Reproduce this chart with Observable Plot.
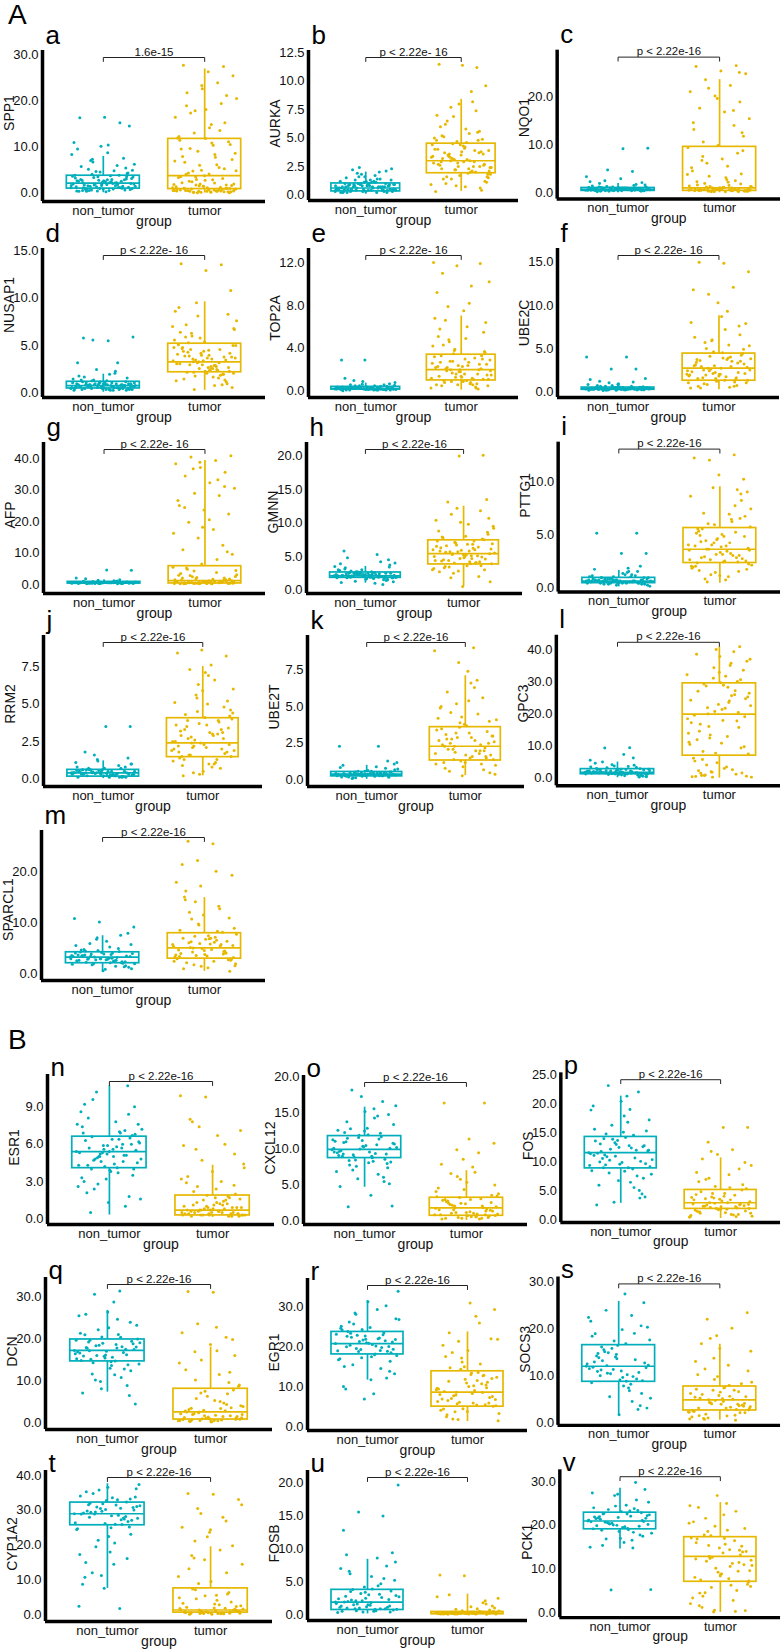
<!DOCTYPE html>
<html><head><meta charset="utf-8">
<script src="https://cdn.jsdelivr.net/npm/d3@7"></script>
<script src="https://cdn.jsdelivr.net/npm/@observablehq/plot@0.6"></script>
<style>
body{margin:0;background:#fff;font-family:"Liberation Sans",Arial,Helvetica,sans-serif}
#root{position:relative;width:784px;height:1649px;overflow:hidden;background:#fff}
.sec{position:absolute;font-size:28px;line-height:1;color:#000}
.pan{position:absolute}
</style></head>
<body><div id="root"></div>
<script>
// ---------------- data ----------------
const groups = ["non_tumor", "tumor"];
const sections = ["A", "B"];
const letters = ["a","b","c","d","e","f","g","h","i","j","k","l","m","n","o","p","q","r","s","t","u","v"];
const genes = ["SPP1","AURKA","NQO1","NUSAP1","TOP2A","UBE2C","AFP","GMNN","PTTG1","RRM2","UBE2T","GPC3","SPARCL1",
               "ESR1","CXCL12","FOS","DCN","EGR1","SOCS3","CYP1A2","FOSB","PCK1"];
const pLabels = ["1.6e-15","p < 2.22e- 16","p < 2.22e-16","p < 2.22e- 16","p < 2.22e- 16","p < 2.22e- 16",
                 "p < 2.22e- 16","p < 2.22e-16","p < 2.22e-16","p < 2.22e-16","p < 2.22e-16","p < 2.22e-16","p < 2.22e-16",
                 "p < 2.22e-16","p < 2.22e-16","p < 2.22e-16","p < 2.22e-16","p < 2.22e-16","p < 2.22e-16",
                 "p < 2.22e-16","p < 2.22e-16","p < 2.22e-16"];
const yTicks = [[0,10,20,30],[0,2.5,5,7.5,10,12.5],[0,10,20],[0,5,10,15],[0,4,8,12],[0,5,10,15],[0,10,20,30,40],
                [0,5,10,15,20],[0,5,10],[0,2.5,5,7.5],[0,2.5,5,7.5],[0,10,20,30,40],[0,10,20],
                [0,3,6,9],[0,5,10,15,20],[0,5,10,15,20,25],[0,10,20,30],[0,10,20,30],[0,10,20,30],
                [0,10,20,30,40],[0,5,10,15,20],[0,10,20,30]];
const yDomains = [[-1.8,31],[-0.5,12.7],[-1.2,29.6],[-0.45,15.2],[-0.59,13.3],[-0.7,16.6],[-2.9,45.2],
                  [-0.54,22],[-0.44,13.7],[-0.51,9.57],[-0.44,9.84],[-2.4,44.6],[-1.3,28.2],
                  [-0.46,11.6],[-0.46,20.2],[-0.4,25.3],[-1.56,34.5],[-0.84,37],[-0.57,31],
                  [-1.9,41.4],[-0.9,21.9],[-1.1,32.7]];
// box statistics: [lower whisker, Q1, median, Q3, upper whisker]
const boxNonTumor = [[0.1,1.0,2.2,3.8,8.0],[0.05,0.3,0.6,1.0,2.0],[0.1,0.5,0.8,1.1,2.0],[0.1,0.5,0.8,1.2,2.0],
  [0.02,0.15,0.25,0.4,0.75],[0.05,0.2,0.3,0.45,0.8],[0.1,0.3,0.5,0.8,1.5],[1.0,1.8,2.1,2.6,3.5],[0.05,0.4,0.6,0.9,1.6],
  [0.02,0.15,0.4,0.6,1.2],[0.05,0.25,0.4,0.55,1.0],[0.1,1.2,1.8,2.8,5.0],[0.5,2.1,3.3,4.25,7.5],
  [0.3,4.07,5.4,6.6,10.7],[4.7,8.75,9.95,11.8,15.8],[2.9,8.9,11.6,14.3,21.3],[7.3,14.6,17.2,19.8,26.7],
  [11.7,18.1,20.8,23.7,31.5],[1.5,8.7,12.0,16.5,25.8],[7.6,25.7,29.0,32.2,37.6],[0.1,0.7,1.9,3.76,8.4],[14.6,19.1,21.0,22.9,28.5]];
const boxTumor = [[0.05,0.9,3.8,11.8,27.0],[0.3,1.9,3.0,4.5,8.4],[0.1,0.5,1.1,9.6,23.5],[0.3,2.2,3.3,5.2,9.6],
  [0.1,1.0,2.0,3.4,7.0],[0.2,1.25,2.7,4.4,8.8],[0.05,0.3,1.2,5.8,39.5],[0.5,3.8,5.4,7.4,12.5],[0.4,2.3,3.6,5.6,9.5],
  [0.2,1.45,2.4,4.05,7.5],[0.3,1.33,2.3,3.6,7.1],[0.0,7.0,20.0,29.6,41.0],[0.5,3.0,5.1,8.0,15.0],
  [0.1,0.27,0.7,1.87,4.3],[0.1,0.75,1.85,3.25,7.0],[0.3,1.95,3.0,5.2,10.7],[0.1,0.8,2.6,8.1,18.0],
  [1.4,5.1,8.7,13.9,23.7],[0.5,2.6,4.85,7.7,16.7],[0.1,0.66,1.4,7.6,19.5],[0.0,0.05,0.2,0.4,3.1],[0.1,7.1,12.9,17.3,25.2]];
// jittered sample points
const ptsNonTumor = [
 [1.2,2.5,0.8,3.1,1.7,0.5,2.2,4.1,1.0,2.9,0.6,1.5,3.6,2.0,0.9,5.2,1.3,2.7,0.4,3.9,1.8,6.3,2.3,1.1,0.7,4.6,3.3,1.6,7.1,2.1,0.3,5.8,2.6,1.4,8.4,3.0,0.9,4.3,2.4,9.6,1.9,6.8,3.5,10.5,1.2,7.6,2.8,11.0,4.9,0.6,14.6,16.5,16.4,15.3,2.0,1.5,3.8,0.8,5.5,10.2,
  1.4,2.3,0.7,3.2,1.9,2.8,1.1,0.5,3.7,2.1,1.6,4.4,0.9,2.6,1.3,3.4,2.0,0.6,1.8,2.9,1.0,3.9,2.2,1.5,0.8,2.5,3.0,1.2,4.7,1.7,2.4,0.4,3.6,1.9,2.7,6.0,7.4,5.0,8.8,2.3],
 [0.3,0.6,0.9,0.4,1.1,0.2,0.7,1.3,0.5,0.8,1.5,0.3,1.0,0.6,1.7,0.4,0.9,1.2,0.2,0.7,1.9,0.5,1.1,0.8,2.1,0.3,0.6,1.4,0.9,2.3,0.4,1.0,0.7,2.4,0.5,1.2,0.3,0.8,1.6,0.6,2.0,0.4,0.9,1.3,0.2,0.7,1.8,0.5,1.1,2.2,
  0.5,0.8,0.3,0.6,1.0,0.4,0.7,0.9,0.2,0.5,1.2,0.6,0.8,0.3,1.0,0.7,0.4,0.9,0.6,1.1,0.5,0.8,0.3,0.7,1.4,0.6,0.9,0.4,0.5,1.0,0.8,0.6,0.2,0.7,1.3,0.9,0.5,0.4,1.6,0.8],
 [0.6,0.9,1.2,0.4,0.8,1.0,0.5,1.4,0.7,1.1,0.3,0.9,1.3,0.6,0.8,1.0,0.5,1.2,0.7,1.6,0.4,0.9,1.1,2.0,0.6,0.8,2.4,1.0,0.5,1.3,3.0,0.7,1.8,0.9,3.4,1.1,0.6,2.2,0.8,1.5,4.5,4.8,9.3,9.2,0.7,1.0,0.5,1.2,
  0.7,0.9,0.5,1.0,0.8,0.6,1.1,0.7,0.9,0.4,0.8,1.0,0.6,0.9,0.7,1.2,0.5,0.8,1.0,0.6,0.7,0.9,1.1,0.8,0.5,0.7,1.0,0.6,0.9,0.8,1.3,0.7,0.6,1.0,0.8,2.6,1.7,0.9,0.5,1.1],
 [0.5,0.8,1.1,0.3,0.7,1.0,0.6,1.3,0.4,0.9,1.2,0.5,0.8,1.5,0.3,0.7,1.0,0.6,1.8,0.4,0.9,1.1,2.0,0.5,0.8,1.2,0.6,2.3,0.7,1.0,0.4,1.4,0.9,2.5,0.6,1.1,0.8,1.6,0.5,3.2,3.2,5.6,5.9,5.5,5.8,0.7,1.0,0.3,
  0.6,0.9,0.4,1.1,0.7,0.5,1.0,0.8,0.3,0.9,1.2,0.6,0.7,1.0,0.5,0.8,1.3,0.4,0.9,0.6,1.1,0.7,0.8,0.5,1.0,0.9,0.6,1.4,0.7,0.4,1.7,0.8,1.1,0.5,2.1,0.9,0.6,1.0,0.7,0.8],
 [0.2,0.3,0.1,0.4,0.25,0.15,0.35,0.5,0.2,0.3,0.1,0.6,0.25,0.4,0.15,0.3,0.7,0.2,0.05,0.45,0.3,0.8,0.2,0.35,0.1,0.9,0.25,0.4,1.0,0.3,0.15,1.2,0.2,0.5,0.35,0.1,0.6,0.3,2.9,2.9,0.25,0.4,0.2,
  0.2,0.3,0.15,0.25,0.35,0.2,0.3,0.1,0.4,0.25,0.2,0.3,0.15,0.35,0.25,0.45,0.2,0.3,0.1,0.25,0.4,0.2,0.3,0.15,0.35,0.2,0.5,0.3,0.25,0.15,0.4,0.2,0.3,0.55,0.25,0.35,0.2,0.65,0.3,0.1],
 [0.3,0.2,0.4,0.5,0.15,0.35,0.6,0.25,0.45,0.3,0.7,0.2,0.4,0.8,0.3,0.1,0.55,0.9,0.25,0.4,1.0,0.3,0.2,1.2,0.5,0.35,1.4,0.3,0.6,1.5,0.25,0.45,2.6,2.6,4.0,4.0,0.3,0.2,0.4,
  0.3,0.4,0.2,0.35,0.5,0.25,0.3,0.45,0.15,0.4,0.3,0.2,0.55,0.35,0.25,0.3,0.4,0.2,0.6,0.3,0.45,0.25,0.35,0.15,0.4,0.3,0.5,0.2,0.7,0.35,0.25,0.3,0.45,0.85,0.3,1.1,0.2,0.4,0.3,0.25],
 [0.4,0.6,0.3,0.8,0.5,0.7,0.2,0.9,0.4,0.6,1.0,0.5,0.3,0.7,1.2,0.5,0.4,0.8,0.6,1.5,0.3,0.7,0.5,1.8,0.6,0.4,2.0,0.8,0.5,4.5,4.6,0.6,0.3,0.7,
  0.5,0.6,0.4,0.7,0.5,0.3,0.8,0.6,0.4,0.5,0.7,0.6,0.3,0.5,0.9,0.4,0.6,0.7,0.5,0.4,0.6,0.8,0.5,0.3,0.7,0.6,0.5,1.1,0.4,0.6,0.5,0.7,0.4,1.3,0.6,0.5],
 [2.1,1.8,2.5,1.5,2.2,2.9,1.9,2.4,1.2,2.0,3.3,1.7,2.6,2.3,1.0,2.8,3.7,1.6,2.1,4.2,2.4,1.9,2.7,4.8,1.4,2.2,3.0,5.3,2.0,1.8,2.5,5.8,0.8,2.3,3.5,1.7,2.6,4.5,2.1,3.9,2.4,1.3,
  2.2,1.9,2.4,2.0,2.6,1.8,2.3,2.1,2.5,1.7,2.2,2.0,2.7,1.9,2.4,2.1,1.6,2.3,2.8,2.0,2.5,1.8,2.2,3.1,1.5,2.4,2.1,2.6,1.9,3.4,2.3,1.1,2.0,2.7,4.0,2.2,1.8,2.5,3.0,2.1],
 [0.6,0.4,0.9,0.3,0.7,1.1,0.5,0.8,0.2,1.3,0.6,0.4,1.0,0.7,1.5,0.3,0.9,0.5,1.7,0.6,0.8,0.1,1.2,0.4,2.0,0.7,0.5,1.0,0.6,3.2,3.2,5.1,5.1,0.8,0.4,1.4,
  0.5,0.7,0.4,0.8,0.6,0.3,0.9,0.5,0.7,0.4,0.6,1.0,0.5,0.8,0.3,0.6,0.7,1.1,0.4,0.6,0.5,0.9,0.7,0.2,0.6,1.2,0.5,0.8,0.4,0.6,1.5,0.7,0.5,1.8,0.6,0.4],
 [0.4,0.2,0.6,0.1,0.5,0.8,0.3,0.4,1.0,0.2,0.6,0.1,1.2,0.4,0.3,0.7,1.4,0.2,0.5,0.9,1.6,0.3,0.1,1.8,0.5,0.4,1.1,0.2,0.6,3.5,3.5,0.3,0.7,0.4,
  0.3,0.5,0.2,0.4,0.6,0.1,0.35,0.45,0.25,0.5,0.3,0.15,0.55,0.4,0.2,0.6,0.3,0.7,0.45,0.1,0.35,0.5,0.25,0.4,0.8,0.3,0.55,0.2,0.45,1.0,0.35,0.6,0.15,1.3,0.4,0.25],
 [0.4,0.3,0.5,0.2,0.6,0.35,0.45,0.15,0.7,0.4,0.25,0.8,0.5,0.3,0.9,0.1,0.55,0.4,1.0,0.3,0.6,1.2,0.45,0.2,1.3,0.35,2.3,2.3,0.5,0.4,
  0.4,0.3,0.5,0.35,0.45,0.25,0.4,0.55,0.3,0.2,0.5,0.4,0.35,0.6,0.3,0.45,0.25,0.4,0.5,0.15,0.35,0.65,0.45,0.3,0.4,0.75,0.5,0.35,0.2,0.4,0.85,0.3,0.55,1.1,0.45,0.35],
 [1.8,1.2,2.6,0.8,2.0,3.5,1.5,2.3,0.4,1.0,3.0,1.7,4.2,2.1,1.3,5.0,0.6,2.5,1.9,6.3,1.1,2.8,7.4,1.6,0.3,3.8,2.2,9.5,9.4,1.4,2.0,4.6,
  1.6,2.2,1.3,2.7,1.9,1.0,2.4,1.5,2.0,3.2,1.2,1.8,2.6,0.9,1.4,2.1,3.6,1.7,2.5,1.1,2.0,4.0,1.5,2.3,0.7,1.8,2.9,1.3,5.6,2.2,1.6,0.5,2.8,1.9,3.3,1.4],
 [3.3,2.2,4.5,1.6,3.0,5.6,2.7,3.9,1.0,6.4,3.5,2.4,7.1,1.9,4.1,2.9,8.0,0.6,3.7,5.0,2.0,9.2,3.1,4.8,1.4,10.2,10.9,2.6,6.0,3.4,0.9,4.3,7.6,2.8,
  3.0,3.8,2.3,3.5,4.2,2.6,3.2,1.8,4.0,2.9,3.6,2.1,4.6,3.4,2.5,3.1,1.3,3.9,2.7,4.4,3.3,2.0,5.3,3.7,2.4,3.0,4.1,1.5,3.5,5.8,2.8,4.7,2.2,6.8,3.6,3.1],
 [5.4,4.1,6.6,3.5,5.9,7.4,4.6,2.8,6.2,5.0,8.1,1.8,5.6,4.3,7.0,2.4,6.8,3.9,9.2,1.0,5.2,4.8,7.8,0.5,6.0,3.2,8.6,5.7,10.2,4.5,6.4,2.1,10.7,5.3,7.6,3.7,9.6,4.0,1.3,6.9,5.1,
  5.0,6.1,4.4,5.7,6.5,4.2,5.3,6.9,4.8,5.5,3.8,6.3,5.1,4.6,7.2,5.8,4.0,6.7,5.2,3.3,6.0,4.9,7.6,5.6,4.3,8.4,5.9,2.6,6.4,4.7,9.0,5.4,3.0,7.1,5.0,1.6],
 [9.9,8.8,11.5,7.4,10.4,12.6,6.5,9.2,13.4,8.1,10.9,5.5,11.9,9.6,14.3,7.8,10.1,15.2,4.8,12.2,8.5,16.0,3.6,11.0,9.3,17.3,6.9,10.6,18.2,2.1,12.9,9.0,16.6,5.9,11.3,8.3,2.0,14.8,
  10.3,9.1,11.4,8.9,10.7,9.6,12.3,8.6,10.0,11.1,9.4,12.8,8.2,10.5,9.8,11.7,7.6,10.2,9.0,13.8,8.0,11.2,9.5,14.6,7.1,10.8,12.0,9.3,6.1,11.6,10.1,15.6,8.4,5.2,12.5,9.7],
 [11.6,9.0,14.0,7.2,12.5,15.6,5.6,10.3,17.2,8.4,13.1,3.8,11.0,18.9,6.5,14.8,9.7,20.4,2.6,12.0,16.3,7.9,21.3,10.6,4.5,13.7,19.6,8.8,23.1,11.9,15.1,6.0,22.0,3.1,9.4,12.8,
  11.2,12.8,9.6,13.6,10.7,12.2,9.2,14.2,11.8,10.1,13.0,8.5,12.4,10.9,15.3,9.9,11.5,7.6,13.9,10.4,16.8,9.0,12.6,6.8,11.1,14.6,8.1,12.0,17.9,10.0,5.1,13.3,11.4,19.0,9.5,4.0],
 [17.2,14.7,19.6,12.4,16.1,21.3,10.8,18.3,23.2,13.6,17.9,8.9,20.4,15.2,24.6,11.6,18.8,26.3,7.1,16.7,22.1,14.0,28.7,19.2,6.5,15.8,25.4,31.3,30.5,4.5,13.0,20.9,17.5,9.8,
  16.4,18.6,15.1,19.4,17.0,14.8,18.1,16.0,19.9,15.6,17.7,13.8,18.9,16.9,21.0,14.3,17.4,22.6,15.9,12.8,18.4,19.0,11.4,17.1,23.9,15.4,16.6,20.3,10.2,18.0,14.5,25.8,16.2,8.1,19.6,17.8],
 [20.8,18.2,23.4,16.4,21.9,25.1,14.6,19.6,27.0,17.5,22.6,12.2,24.3,19.0,29.3,15.5,21.2,31.2,10.1,23.0,18.8,33.8,8.3,26.2,20.1,7.0,17.0,22.2,28.4,13.3,24.8,9.5,
  21.5,19.3,23.1,20.2,22.4,18.5,21.0,24.2,19.8,22.9,17.8,20.6,23.8,18.9,21.7,16.8,22.0,25.7,19.4,20.9,15.1,23.5,21.3,26.8,18.0,20.4,13.9,22.7,24.6,19.1,28.1,21.8,11.8,20.0,30.2,17.3],
 [12.0,8.8,16.1,6.2,13.6,18.4,4.5,10.5,20.3,9.6,14.7,2.8,11.3,22.4,7.4,15.5,25.5,1.7,12.9,19.0,5.5,17.6,27.4,10.0,3.6,14.0,21.6,8.2,23.9,11.7,
  11.0,14.2,9.3,15.8,12.5,10.2,13.2,8.9,16.4,11.8,9.8,14.9,12.2,7.8,13.8,10.7,17.4,11.5,6.8,15.1,12.7,9.1,18.9,13.4,10.4,5.2,16.8,11.2,20.6,14.5,8.5,22.8,12.1,3.1,19.8,10.9],
 [29.0,26.0,32.0,23.1,30.2,34.1,27.3,19.5,31.1,28.4,35.3,16.2,29.7,24.5,33.0,12.1,30.8,36.6,8.8,27.8,21.4,37.4,14.5,31.6,25.2,7.6,2.5,1.8,28.9,33.8,18.0,10.8,
  28.2,30.5,26.4,31.5,29.4,27.1,32.8,28.9,25.9,30.9,27.7,33.6,29.8,26.8,31.9,24.7,28.6,34.8,30.1,22.5,29.2,27.5,35.8,31.3,20.6,28.0,33.2,26.2,17.3,30.6,29.5,36.2,25.0,15.0,32.4,11.3],
 [1.9,0.8,3.5,0.4,2.5,1.3,4.7,0.6,2.9,5.8,1.0,7.4,2.1,0.3,8.6,3.8,9.4,1.5,12.8,15.0,15.6,19.7,0.5,6.6,2.3,4.2,1.1,3.1,0.9,5.2,
  1.4,2.8,0.9,3.2,1.7,0.6,2.2,3.6,1.2,0.5,2.6,1.6,0.8,3.9,2.0,1.1,0.4,2.4,4.4,1.5,0.7,3.0,1.9,5.5,1.0,2.7,0.6,6.2,1.3,3.4,7.0,0.9,2.1,8.0,1.8,9.1],
 [21.0,19.3,22.6,17.5,21.8,24.0,18.4,20.4,25.3,16.1,22.0,19.8,26.8,15.0,23.3,20.7,28.2,17.0,21.5,29.8,5.2,5.3,24.6,18.9,22.9,20.0,27.4,16.6,
  20.6,22.2,19.5,21.7,23.4,20.1,21.2,19.0,22.7,20.9,18.6,21.9,23.8,20.3,22.4,19.7,21.4,17.8,24.4,20.8,22.1,16.9,21.6,23.1,19.9,25.8,20.5,18.2,22.6,15.4,21.1,27.1,19.2,14.8,23.6,20.2]
];
const ptsTumor = [
 [0.2,0.5,0.8,1.1,0.3,1.6,0.6,2.2,0.4,1.0,2.8,0.7,1.3,3.5,0.9,0.2,4.1,1.8,5.0,0.5,6.2,2.5,7.3,1.2,8.0,3.2,9.1,0.6,10.4,4.4,11.2,1.5,12.3,5.6,13.1,0.8,14.2,6.7,15.3,2.0,16.5,7.8,17.4,0.3,18.2,9.6,19.5,3.0,20.6,10.9,21.8,1.1,22.7,12.0,24.0,4.8,25.5,26.4,27.8,27.5,0.4,1.9,0.7,2.6,0.1,3.8,11.5,13.6,17.9,8.7,
  0.3,0.6,1.0,0.2,1.4,0.5,0.9,1.7,0.4,2.3,0.8,0.1,1.2,2.9,0.6,0.3,1.5,3.4,0.7,0.2,2.0,4.2,1.1,5.3,6.1,7.0,8.4,9.7,10.6,11.9,3.6,0.5,1.8,4.9,14.9,19.0,21.2,23.4,0.9,0.4],
 [3.0,1.5,4.2,2.3,5.6,0.8,3.4,2.0,6.5,1.2,3.8,2.7,7.4,4.5,1.8,3.1,5.1,0.4,2.5,4.0,8.2,3.6,1.6,2.9,6.0,4.8,2.2,3.3,5.4,1.0,2.6,4.4,7.0,3.9,1.4,2.1,5.8,3.2,0.6,4.7,2.8,9.1,3.5,9.6,11.4,11.5,11.2,6.9,2.4,1.9,3.7,4.9,8.0,0.3,
  2.5,3.3,1.8,4.1,2.9,3.7,2.2,4.4,3.0,1.6,2.7,3.5,4.0,2.0,3.2,2.4,4.6,1.4,3.8,2.8,5.0,2.1,3.4,1.1,4.3,2.6,5.5,3.1,0.9,2.3,6.2,3.6,1.7,4.8,2.9,7.7,3.9,0.7,5.2,2.5],
 [0.4,0.8,1.2,0.6,1.0,0.3,1.5,0.7,2.0,0.5,1.1,0.9,2.6,0.4,1.4,3.2,0.6,4.0,0.8,5.3,1.1,6.2,0.5,7.1,1.7,8.3,0.9,9.4,2.3,10.6,11.8,0.7,13.2,14.0,3.5,15.4,16.8,17.6,18.9,20.1,21.0,22.3,23.5,24.7,25.3,26.2,26.4,0.3,1.3,2.8,6.8,12.5,19.6,4.6,
  0.5,0.9,0.4,1.2,0.7,0.3,1.0,0.6,1.6,0.8,0.4,1.1,0.5,0.9,1.4,0.6,0.3,0.8,1.9,0.7,1.0,0.5,1.3,0.4,0.8,2.4,0.6,1.1,3.9,5.6,7.6,8.8,9.9,14.6,17.1,21.7,0.7,1.2,0.5,25.0],
 [3.3,2.1,4.5,1.5,3.8,2.6,5.6,0.8,3.0,4.2,2.3,6.4,1.9,3.5,5.0,2.8,7.2,1.2,4.0,3.1,2.5,6.0,0.6,3.7,4.8,2.0,8.1,3.4,1.7,5.3,2.7,4.4,9.0,3.2,0.4,6.7,2.4,3.9,1.4,5.8,8.6,2.9,4.6,10.8,12.9,13.6,13.5,9.5,7.6,3.6,2.2,1.0,
  3.0,4.1,2.4,3.6,5.0,2.7,4.4,2.0,3.3,4.8,2.9,3.9,2.3,5.4,3.1,4.6,1.8,3.7,2.5,5.9,3.5,4.2,1.3,2.8,6.3,3.8,2.1,4.7,0.9,3.2,7.0,2.6,4.3,8.3,3.4,5.1,1.6,2.2,6.8,4.0],
 [2.0,1.1,3.0,0.5,2.5,1.6,4.2,0.8,2.2,3.6,1.3,5.1,0.3,2.8,1.9,6.0,1.0,3.3,2.4,6.8,0.6,4.6,1.5,7.5,2.7,0.2,3.9,1.2,8.2,2.1,5.5,1.8,9.2,3.1,0.9,10.2,4.9,11.0,11.9,11.7,12.0,9.8,7.9,6.4,2.3,1.4,0.7,3.5,
  1.5,2.4,0.8,3.0,1.8,2.2,1.1,2.8,0.5,1.6,3.3,2.0,1.3,2.6,0.7,1.9,3.7,1.4,2.3,0.4,1.7,2.9,1.0,4.3,2.1,0.6,3.2,1.2,4.8,2.5,0.9,5.8,1.6,3.8,0.3,2.7,6.6,1.1,2.0,0.6],
 [2.7,1.3,3.9,0.6,2.2,4.6,1.8,5.4,0.9,3.2,2.0,6.3,1.1,4.1,2.5,7.2,0.4,3.5,1.5,8.0,2.9,5.0,1.0,8.7,3.7,0.7,6.0,2.4,9.3,1.6,4.4,10.3,11.8,12.1,11.3,13.9,14.9,15.0,7.6,3.0,1.9,0.5,5.7,2.1,
  2.0,3.1,1.4,2.6,3.8,1.7,2.9,4.2,1.2,2.3,3.5,0.8,2.8,4.5,1.5,3.3,2.1,1.0,3.9,2.5,4.9,1.8,3.0,0.6,2.4,5.3,1.3,3.6,6.6,2.2,0.4,4.0,1.9,7.9,2.7,3.4,1.6,5.9,2.0,3.7],
 [0.3,0.8,1.2,0.5,2.0,0.2,1.5,0.7,2.8,0.4,1.0,3.5,0.6,1.8,4.4,0.3,5.2,1.1,6.5,0.9,7.9,2.4,9.6,0.5,11.0,12.5,14.8,16.3,17.5,19.8,22.4,23.7,25.1,28.3,29.0,30.6,32.4,34.5,35.7,37.2,38.4,39.5,40.6,41.0,0.4,1.4,0.7,2.2,3.1,0.2,4.8,10.4,18.2,26.7,33.3,36.8,
  0.4,0.9,0.2,1.3,0.6,0.3,1.0,0.5,1.7,0.8,0.2,1.1,0.4,2.5,0.7,0.3,1.5,0.5,0.9,3.8,0.6,1.2,0.3,2.0,0.8,0.4,5.5,1.6,0.7,0.3,1.0,2.9,0.5,4.3,0.6,20.6,24.5,31.2,38.9,0.9],
 [5.4,3.9,6.8,4.5,7.6,2.8,5.0,6.2,3.4,8.3,4.8,5.8,2.0,7.1,9.2,4.2,5.6,3.0,10.1,6.5,4.0,11.3,1.2,5.2,7.9,3.6,12.2,6.0,4.7,13.1,13.5,0.5,8.8,5.1,2.5,6.9,9.8,3.3,20.1,20.0,4.4,7.3,5.7,10.7,
  5.0,6.3,4.2,7.0,5.5,3.9,6.6,4.6,5.9,7.3,4.1,5.3,6.1,3.6,7.8,4.9,5.7,3.2,6.8,4.4,8.6,5.2,2.7,6.4,4.0,9.5,5.8,3.5,7.5,4.7,10.4,6.0,1.8,5.4,8.0,4.3,11.8,6.7,3.0,5.1],
 [3.6,2.2,4.8,1.6,3.0,5.9,2.6,4.2,0.8,6.7,3.3,2.0,5.2,1.2,7.4,3.9,2.8,8.2,4.5,1.8,6.2,0.5,9.0,3.1,5.5,2.4,9.4,4.0,1.0,7.0,10.2,10.6,12.2,12.5,12.0,3.5,2.5,4.9,6.5,1.4,8.6,
  3.2,4.4,2.5,3.8,5.1,2.8,4.0,2.1,3.4,5.5,2.7,4.6,1.9,3.0,6.0,3.7,2.4,5.3,1.5,4.2,3.5,6.9,2.9,4.8,1.1,3.9,7.7,2.6,5.7,0.7,4.3,8.8,3.1,2.0,6.4,3.6,1.7,5.0,2.3,9.2],
 [2.4,1.5,3.6,0.9,2.0,4.5,1.2,3.0,2.7,5.2,0.5,1.8,3.9,2.2,6.0,1.0,3.3,4.8,0.3,2.5,6.6,1.6,4.2,7.1,2.9,0.7,5.6,1.9,7.6,3.5,8.2,8.6,8.4,1.3,2.1,4.0,5.0,0.2,3.1,6.3,
  2.0,2.9,1.6,3.4,2.3,1.4,3.8,2.6,1.9,3.1,4.3,1.7,2.4,3.6,1.1,2.8,4.6,2.1,1.5,3.3,5.4,2.5,0.8,3.9,1.8,5.9,2.2,3.0,0.4,4.4,6.9,1.3,2.7,3.7,5.1,1.0,7.3,2.3,4.1,3.2],
 [2.3,1.4,3.2,0.8,2.0,3.9,1.1,2.7,4.6,0.5,1.7,3.5,2.4,5.2,1.0,2.9,6.0,1.5,0.3,4.2,6.8,2.1,3.0,7.4,1.2,5.6,8.0,8.8,9.0,0.6,2.5,3.8,4.9,1.8,
  1.9,2.6,1.5,3.1,2.2,1.3,3.4,2.0,2.8,1.7,3.7,2.4,1.1,2.9,4.1,1.6,2.1,3.3,0.9,2.7,4.5,1.4,3.0,5.4,2.3,0.7,3.6,1.8,6.3,2.5,4.0,1.2,5.0,2.0,3.2,0.4,6.6,2.8,1.6,4.3],
 [20.0,7.5,29.0,2.3,15.8,34.5,11.2,24.1,0.8,19.2,38.0,5.3,27.3,13.5,22.6,31.8,1.5,9.4,40.2,17.3,25.7,4.1,36.5,21.4,12.0,30.2,0.3,18.5,28.4,8.3,33.7,23.0,6.2,39.5,16.1,26.5,3.0,14.6,41.0,20.8,10.5,35.2,1.0,24.8,29.8,
  0.5,1.2,2.0,0.3,3.5,0.8,1.6,4.8,0.4,2.6,22.0,25.3,18.0,27.1,20.5,31.2,14.0,23.6,29.4,9.8,33.0,19.6,26.0,12.5,37.1,21.8,16.8,30.7,7.8,24.3,35.9,28.8,0.6,10.9,38.7,17.8,1.8,32.3,13.0,5.8],
 [5.1,3.2,7.5,1.0,4.4,9.6,2.5,6.2,12.1,0.5,3.8,8.6,5.5,14.2,2.0,7.0,16.3,4.1,1.5,18.0,6.6,10.8,19.4,3.5,21.5,8.2,22.3,5.8,25.6,26.1,2.8,11.6,4.7,13.3,1.8,9.0,6.9,15.1,
  4.5,6.0,3.3,7.2,5.2,2.7,6.8,4.0,5.8,3.6,7.8,4.8,2.2,6.4,5.0,3.0,8.4,4.3,5.6,1.2,7.0,3.9,9.8,5.4,2.5,6.1,11.0,4.6,3.4,12.8,7.4,1.6,5.9,14.6,4.1,17.3,3.7,20.2,6.3,2.9],
 [0.7,0.3,1.3,0.2,0.9,1.9,0.5,1.1,2.6,0.4,0.8,3.4,0.2,1.5,4.1,0.6,2.2,5.2,0.3,1.0,6.0,0.7,7.1,1.7,8.0,0.4,9.8,9.9,3.0,5.6,0.9,0.5,2.9,1.2,4.7,0.3,6.7,7.8,
  0.5,0.9,0.3,1.4,0.6,0.2,1.1,0.4,1.7,0.8,0.3,1.2,0.5,2.0,0.7,0.4,1.5,0.3,0.9,2.4,0.6,0.2,1.0,3.2,0.5,1.3,0.4,3.8,0.7,1.8,0.3,4.4,0.6,1.1,2.7,0.4,5.9,0.8,7.4,1.6],
 [1.9,0.8,3.0,0.4,1.4,2.5,4.1,0.6,1.1,3.6,5.4,0.3,2.1,6.2,1.0,7.5,2.8,0.5,8.6,4.6,9.5,1.6,10.8,11.4,16.4,16.4,3.3,0.9,6.8,2.3,
  1.5,2.4,0.9,3.1,1.2,2.0,0.6,2.7,1.7,0.4,3.4,1.0,2.2,1.4,0.8,2.9,1.9,0.5,3.8,1.1,2.5,0.7,4.4,1.6,0.3,2.1,5.0,1.3,3.0,0.9,5.8,1.8,0.6,6.6,2.6,1.2,7.9,0.4,9.9,3.5],
 [3.0,2.0,4.6,1.2,2.6,5.8,0.8,3.5,7.0,1.6,2.3,8.2,0.6,4.0,9.4,1.9,10.5,5.2,11.3,2.8,12.1,13.4,15.9,15.9,6.6,1.0,3.8,0.5,7.8,2.4,
  2.5,3.6,1.7,4.3,2.2,3.2,1.3,4.9,2.8,2.0,3.9,1.0,2.6,5.4,3.3,1.5,2.1,4.6,0.7,3.0,2.4,6.1,1.8,3.5,0.9,7.2,2.7,4.1,1.4,8.8,2.9,0.6,5.6,3.7,9.9,1.9,4.4,2.3,11.8,1.2],
 [2.6,0.9,5.3,0.4,1.7,7.5,0.6,3.4,10.2,1.2,0.3,12.6,4.4,14.9,2.0,17.1,0.7,19.8,6.3,21.4,1.5,23.5,8.7,31.0,31.2,9.6,3.0,0.5,11.5,2.2,16.0,1.0,
  1.3,2.9,0.6,4.1,1.8,0.4,3.6,1.1,2.2,0.7,5.8,1.5,0.3,2.6,6.9,1.0,3.9,0.5,2.0,7.8,1.4,0.8,4.7,2.4,9.0,0.6,3.2,12.0,1.7,14.2,5.1,16.9,0.9,18.6,2.8,20.3,7.1,1.2,22.7,3.5],
 [8.7,5.3,13.5,3.1,9.8,16.2,6.4,11.6,2.0,7.6,19.1,4.5,12.8,21.4,1.6,10.3,23.5,6.0,15.0,8.1,25.9,3.8,29.3,30.9,17.6,5.6,14.4,9.3,27.6,7.1,22.0,11.0,
  7.0,10.8,5.8,12.4,8.4,6.6,11.2,4.6,9.5,13.6,7.8,5.2,10.1,8.9,12.9,6.2,3.4,9.1,14.8,7.4,11.9,4.2,15.7,8.0,6.9,13.1,2.6,10.5,17.2,9.7,5.5,18.6,12.1,3.9,20.4,8.6,1.9,21.9,6.0,11.4],
 [4.9,2.7,7.4,1.5,3.6,9.2,0.8,5.6,11.4,2.1,6.5,13.0,0.5,4.2,15.2,3.1,16.8,8.3,18.5,1.2,20.1,22.0,23.4,5.1,10.2,3.9,6.9,2.3,12.2,0.9,
  3.5,5.8,2.4,6.9,4.3,3.0,7.5,5.2,2.1,4.7,6.2,3.3,1.8,5.5,3.9,7.1,2.8,4.0,8.6,1.4,6.0,3.7,9.8,2.5,5.0,1.0,11.0,4.5,3.1,6.6,13.7,2.2,7.9,0.7,4.1,15.8,5.4,1.6,17.9,3.4],
 [1.4,0.5,3.1,0.2,0.9,5.5,1.8,0.3,7.2,2.4,9.6,0.7,12.1,1.1,14.5,4.2,17.0,19.8,22.4,25.1,28.0,30.5,33.1,34.6,34.8,6.4,0.4,11.0,2.9,16.3,1.6,23.7,
  0.8,1.9,0.4,2.6,1.2,0.3,3.7,0.9,1.5,0.5,4.6,1.1,0.2,2.2,6.0,0.7,1.7,0.4,7.4,1.3,0.6,3.3,0.3,9.0,1.0,2.0,13.2,0.5,15.8,4.9,18.6,21.2,1.4,24.4,0.8,26.9,29.1,31.6,5.6,0.6],
 [0.2,0.1,0.4,0.3,0.05,0.6,0.2,0.9,0.15,1.3,0.3,0.1,1.8,0.25,2.5,0.4,3.0,0.2,5.9,6.0,0.5,0.1,1.0,0.3,0.2,2.1,
  0.2,0.3,0.1,0.25,0.35,0.15,0.2,0.4,0.1,0.3,0.2,0.05,0.25,0.35,0.15,0.3,0.2,0.45,0.1,0.25,0.3,0.2,0.55,0.15,0.3,0.7,0.2,0.1,0.35,0.8,0.25,1.2,0.15,1.6,0.3,2.7,0.2,0.4],
 [12.9,7.3,17.0,4.5,14.3,19.8,2.1,10.6,21.6,0.5,8.8,16.0,23.2,5.8,12.0,25.0,1.2,15.2,26.8,3.4,11.3,18.6,6.5,13.7,24.1,9.5,0.2,20.5,7.8,17.8,
  11.0,14.8,8.1,16.5,12.4,9.6,15.7,7.5,13.2,10.2,17.1,6.3,11.8,14.0,8.9,16.9,5.1,12.7,10.8,18.9,3.8,13.9,9.3,20.8,2.8,15.4,7.0,22.4,1.6,11.5,0.6,24.5,14.4,4.6,19.3,8.4,12.3,0.3,17.6,6.0]
];

// ---------------- layout (pixels) ----------------
// [axis x, panel right, panel top, panel bottom, letter baseline offset from top, y-title offset]
const layout = [
 [42,265,50,201,-7,-13],[308,518,50,200,-7,-2],[557,782,50,200,-7,-7],
 [42,265,248,397,-7,-18],[308,518,248,397,-7,-5],[557,779,248,397,-7,0],
 [43,265,442,593,-7,-3],[306,522,442,593,-7,-6],[558,782,442,593,-7,-22],
 [43,262,635,786,-7,-7],[307,524,635,786,-7,-4],[556,781,635,786,-7,-7],
 [41,265,830,980,-7,4],
 [47,274,1074,1224,1,-2],[303,527,1075,1224,1,-2],[561,784,1073,1225,1,-2],
 [45,272,1277,1429,1,-2],[307,527,1278,1430,1,-2],[558,783,1277,1427,1,-2],
 [45,272,1470,1621,1,-2],[307,527,1470,1620,1,-2],[560,784,1470,1620,1,-2]
];
const sectionPos = [[8,1],[8,1026]];
const colors = ["#00AFBB", "#E7B800"];
const FONT = '"Liberation Sans", Arial, Helvetica, sans-serif';

const root = document.getElementById("root");
sections.forEach((s, k) => {
  const d = document.createElement("div");
  d.className = "sec"; d.textContent = s;
  d.style.left = sectionPos[k][0] + "px"; d.style.top = sectionPos[k][1] + "px";
  root.appendChild(d);
});

const jit = j => (((j * 0.6180339887) % 1) - 0.5) * 0.64;
const fmt = d3.format(".1f");

function panel(i) {
  const [ax, right, top, bottom, letterDy, titleDy] = layout[i];
  const ML = 46, MR = 4, MT = 46, MB = 36;
  const W = right - ax + ML + MR, H = bottom - top + MT + MB;
  const [y0, y1] = yDomains[i];
  const ppu = (bottom - top) / (y1 - y0);
  const by = y1 - 7 / ppu, tip = 4 / ppu;
  const stats = [boxNonTumor[i], boxTumor[i]];
  const pts = [ptsNonTumor[i], ptsTumor[i]];
  const marks = [];
  [0, 1].forEach(g => {
    const cx = g + 1, c = colors[g];
    marks.push(Plot.dot(pts[g].map((v, j) => ({x: cx + jit(j + g * 7), y: v})),
      {x: "x", y: "y", r: 1.5, fill: c, stroke: null}));
  });
  [0, 1].forEach(g => {
    const cx = g + 1, c = colors[g], s = stats[g], hw = 0.36;
    marks.push(Plot.rect([s], {x1: cx - hw, x2: cx + hw, y1: d => d[1], y2: d => d[3], stroke: c, strokeWidth: 1.7, fill: "none"}));
    marks.push(Plot.ruleY([s], {y: d => d[2], x1: cx - hw, x2: cx + hw, stroke: c, strokeWidth: 1.7}));
    marks.push(Plot.ruleX([s], {x: cx, y1: d => d[3], y2: d => d[4], stroke: c, strokeWidth: 1.7}));
    marks.push(Plot.ruleX([s], {x: cx, y1: d => d[0], y2: d => d[1], stroke: c, strokeWidth: 1.7}));
  });
  marks.push(
    Plot.ruleX([0.4], {stroke: "#000", strokeWidth: 3.5}),
    Plot.ruleY([y0], {stroke: "#000", strokeWidth: 3.5}),
    Plot.line([[1, by - tip], [1, by], [2, by], [2, by - tip]], {stroke: "#222", strokeWidth: 1}),
    Plot.text([pLabels[i]], {x: 1.5, y: by, dy: -2, lineAnchor: "bottom", fontSize: 11.5, fill: "#111"}),
    Plot.text([genes[i]], {frameAnchor: "left", textAnchor: "middle", rotate: -90, dx: -33, dy: titleDy, fontSize: 14, fill: "#111"}),
    Plot.text(["group"], {frameAnchor: "bottom", textAnchor: "middle", lineAnchor: "bottom", dy: 24, fontSize: 14, fill: "#111"}),
    Plot.text([letters[i]], {frameAnchor: "top-left", textAnchor: "start", lineAnchor: "bottom", dx: 3, dy: letterDy, fontSize: 26, fill: "#000"})
  );
  const svg = Plot.plot({
    width: W, height: H, marginLeft: ML, marginRight: MR, marginTop: MT, marginBottom: MB,
    style: {background: "transparent", overflow: "visible", fontFamily: FONT, fontSize: "13px", color: "#111"},
    x: {domain: [0.4, 2.6], ticks: [1, 2], tickFormat: d => groups[d - 1], tickSize: 0, tickPadding: 4, label: null},
    y: {domain: [y0, y1], ticks: yTicks[i], tickFormat: fmt, tickSize: 0, tickPadding: 4, label: null},
    marks
  });
  const div = document.createElement("div");
  div.className = "pan";
  div.style.left = (ax - ML) + "px";
  div.style.top = (top - MT) + "px";
  div.appendChild(svg);
  root.appendChild(div);
}
for (let i = 0; i < genes.length; i++) panel(i);
</script>
</body></html>
